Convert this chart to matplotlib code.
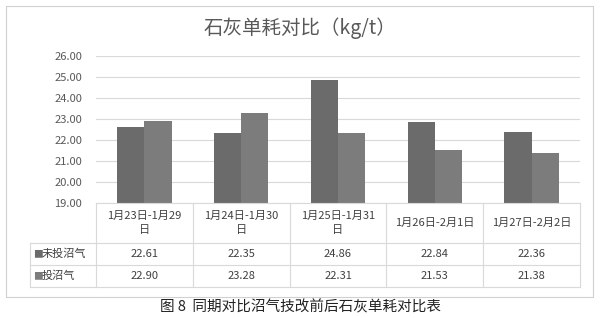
import matplotlib
matplotlib.use('Agg')
import matplotlib.pyplot as plt
from matplotlib.patches import Rectangle
import numpy as np

plt.rcParams['font.family'] = ['Noto Sans CJK SC', 'DejaVu Sans']

# data
categories = ['1月23日-1月29\n日', '1月24日-1月30\n日', '1月25日-1月31\n日', '1月26日-2月1日', '1月27日-2月2日']
series_names = ['未投沼气', '投沼气']
before = [22.61, 22.35, 24.86, 22.84, 22.36]
after = [22.90, 23.28, 22.31, 21.53, 21.38]
yticks = [19, 20, 21, 22, 23, 24, 25, 26]
colors = ['#6b6b6b', '#7c7c7c']

W, H = 600, 318
fig = plt.figure(figsize=(6, 3.18), dpi=100)


def fx(p):
    return p / W


def fy(p):
    return 1 - p / H


# outer frame
fig.patches.append(Rectangle((fx(6), fy(297)), fx(587), (291) / H, transform=fig.transFigure,
                             fill=False, edgecolor='#d0d0d0', linewidth=0.8))

left, right, top, bottom = 96, 580, 56, 203
ax = fig.add_axes([fx(left), fy(bottom), fx(right - left), (bottom - top) / H])

x = np.arange(len(categories))
bw = 0.28
ax.bar(x - bw / 2, before, bw, bottom=0, color=colors[0], zorder=3)
ax.bar(x + bw / 2, after, bw, bottom=0, color=colors[1], zorder=3)
ax.set_xlim(-0.5, len(categories) - 0.5)
ax.set_ylim(19, 26)
ax.set_yticks(yticks)
ax.set_yticklabels([f'{v:.2f}' for v in yticks], fontsize=8, color='#595959')
ax.tick_params(axis='y', length=0, pad=10)
ax.set_xticks([])
ax.grid(axis='y', color='#d9d9d9', linewidth=0.8, zorder=0)
for s in ax.spines.values():
    s.set_visible(False)

fig.text(fx(300), fy(28), '石灰单耗对比（kg/t）', ha='center', va='center', fontsize=14, color='#595959')

# data table under the axis
line_kw = dict(color='#d9d9d9', linewidth=0.8, transform=fig.transFigure)
col_edges = np.linspace(left, right, len(categories) + 1)
rows = [203, 243, 265, 287]
leg_left = 30
fig.add_artist(plt.Line2D([fx(left), fx(right)], [fy(rows[0])] * 2, **line_kw))
for r in rows[1:]:
    fig.add_artist(plt.Line2D([fx(leg_left), fx(right)], [fy(r)] * 2, **line_kw))
for c in col_edges:
    fig.add_artist(plt.Line2D([fx(c)] * 2, [fy(rows[0]), fy(rows[-1])], **line_kw))
fig.add_artist(plt.Line2D([fx(leg_left)] * 2, [fy(rows[1]), fy(rows[-1])], **line_kw))

centers = (col_edges[:-1] + col_edges[1:]) / 2
for cx, label in zip(centers, categories):
    fig.text(fx(cx), fy((rows[0] + rows[1]) / 2), label, ha='center', va='center',
             fontsize=8, color='#404040', linespacing=1.4)

for i, (name, vals) in enumerate(zip(series_names, [before, after])):
    ymid = fy((rows[i + 1] + rows[i + 2]) / 2)
    fig.text(fx(leg_left + 3), ymid, '■', ha='left', va='center', fontsize=7, color=colors[i])
    fig.text(fx(leg_left + 12), ymid, name, ha='left', va='center', fontsize=8, color='#404040')
    for cx, v in zip(centers, vals):
        fig.text(fx(cx), ymid, f'{v:.2f}', ha='center', va='center', fontsize=8, color='#404040')

fig.text(fx(300), fy(307), '图 8  同期对比沼气技改前后石灰单耗对比表', ha='center', va='center',
         fontsize=10.5, color='#222222')

fig.savefig('out.png', dpi=100, facecolor='white')
